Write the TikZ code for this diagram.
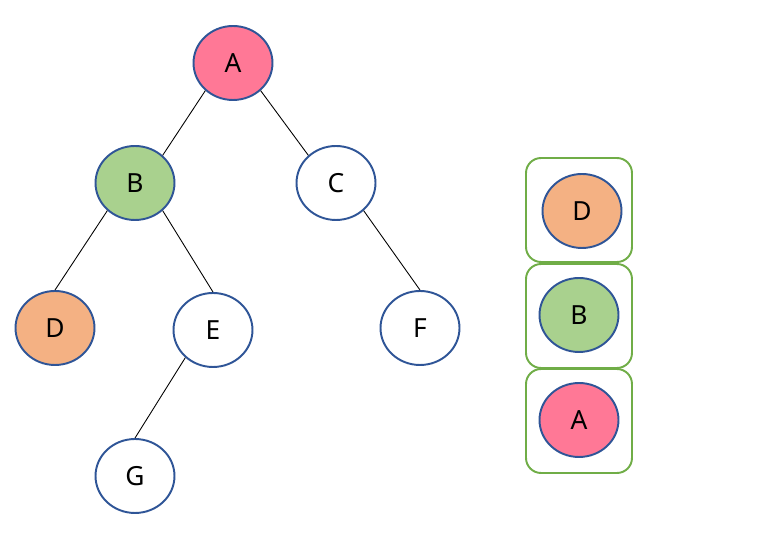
\documentclass[tikz,border=0pt]{standalone}
\usepackage{fontspec}
\setmainfont{Noto Sans}
\usetikzlibrary{shapes.geometric, positioning}
\definecolor{nodeborder}{HTML}{2F5597}
\definecolor{pinkfill}{HTML}{FF7896}
\definecolor{greenfill}{HTML}{A9D18E}
\definecolor{orangefill}{HTML}{F4B183}
\definecolor{boxgreen}{HTML}{70AD47}

\begin{document}
\begin{tikzpicture}[
    x=0.02cm, y=-0.02cm,
    treenode/.style={ellipse, draw=nodeborder, line width=1.1pt, fill=white, minimum width=1.58cm, minimum height=1.48cm, inner sep=0pt, font=\fontsize{15}{17}\selectfont},
    stackbox/.style={rectangle, draw=boxgreen, line width=1.1pt, rounded corners=0.3cm, minimum width=2.12cm, minimum height=2.08cm},
    edge/.style={line width=0.5pt, black}
]
    \useasboundingbox (0,0) rectangle (758,560);

    % Binary tree
    \node [treenode, fill=pinkfill] (A) at (233,63) {A};
    \node [treenode, fill=greenfill] (B) at (135,183) {B};
    \node [treenode] (C) at (336,183) {C};
    \node [treenode, fill=orangefill] (D) at (55,328) {D};
    \node [treenode] (E) at (213,330) {E};
    \node [treenode] (F) at (420,328) {F};
    \node [treenode] (G) at (135,476) {G};

    % Stack
    \node [stackbox] (stack1) at (579,210) {};
    \node [stackbox] (stack2) at (579,316) {};
    \node [stackbox] (stack3) at (579,421) {};
    \node [treenode, fill=orangefill] (sD) at (582,211) {D};
    \node [treenode, fill=greenfill] (sB) at (579,315) {B};
    \node [treenode, fill=pinkfill] (sA) at (579,420) {A};

    % Connections
    \draw [edge] (A.225) -- (B.45);
    \draw [edge] (A.315) -- (C.135);
    \draw [edge] (B.225) -- (D.north);
    \draw [edge] (B.315) -- (E.north);
    \draw [edge] (E.225) -- (G.north);
    \draw [edge] (C.315) -- (F.north);
\end{tikzpicture}
\end{document}
